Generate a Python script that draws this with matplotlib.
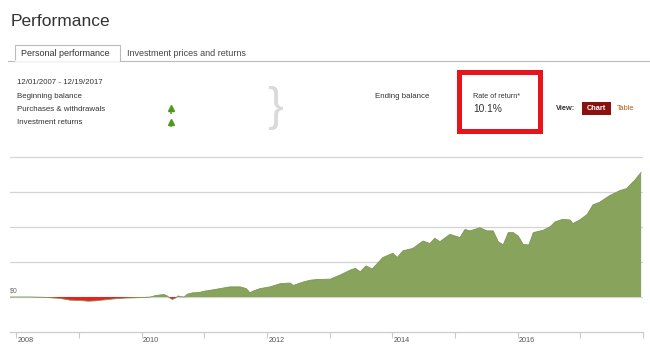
import matplotlib
matplotlib.use("Agg")
import matplotlib.pyplot as plt
from matplotlib.patches import Rectangle
from matplotlib.lines import Line2D
import numpy as np

plt.rcParams['font.family'] = ['Liberation Sans', 'DejaVu Sans']

# account value over time (decimal years, value in units of one gridline step)
years = [2007.90, 2008.22, 2008.46, 2008.70, 2008.86, 2009.02, 2009.15, 2009.26,
         2009.42, 2009.58, 2009.74, 2009.90, 2010.06, 2010.14, 2010.22, 2010.30,
         2010.36, 2010.41, 2010.46, 2010.49, 2010.54, 2010.58, 2010.63, 2010.68,
         2010.73, 2010.82, 2010.93, 2010.98, 2011.09, 2011.25, 2011.41, 2011.57,
         2011.67, 2011.73, 2011.78, 2011.89, 2012.05, 2012.21, 2012.37, 2012.42,
         2012.58, 2012.69, 2012.80, 2013.01, 2013.17, 2013.33, 2013.41, 2013.49,
         2013.58, 2013.68, 2013.85, 2014.01, 2014.08, 2014.17, 2014.33, 2014.49,
         2014.60, 2014.68, 2014.76, 2014.92, 2015.08, 2015.16, 2015.24, 2015.40,
         2015.51, 2015.61, 2015.69, 2015.77, 2015.85, 2015.93, 2016.01, 2016.09,
         2016.18, 2016.25, 2016.41, 2016.52, 2016.60, 2016.72, 2016.84, 2016.88,
         2016.99, 2017.11, 2017.20, 2017.31, 2017.47, 2017.63, 2017.74, 2017.87,
         2017.97]
values = [0.00, 0.00, -0.01, -0.04, -0.09, -0.10, -0.12, -0.11,
          -0.08, -0.05, -0.03, -0.02, -0.01, 0.00, 0.04, 0.06,
          0.07, 0.03, -0.04, -0.07, -0.03, 0.03, 0.01, 0.00,
          0.08, 0.12, 0.13, 0.16, 0.19, 0.24, 0.29, 0.29,
          0.24, 0.12, 0.17, 0.24, 0.29, 0.38, 0.40, 0.33,
          0.43, 0.48, 0.50, 0.51, 0.63, 0.77, 0.82, 0.72,
          0.89, 0.80, 1.13, 1.25, 1.13, 1.32, 1.39, 1.60,
          1.53, 1.68, 1.58, 1.79, 1.70, 1.93, 1.89, 1.98,
          1.89, 1.89, 1.58, 1.49, 1.84, 1.84, 1.74, 1.50,
          1.49, 1.84, 1.91, 2.01, 2.15, 2.22, 2.20, 2.10,
          2.20, 2.36, 2.63, 2.71, 2.90, 3.04, 3.10, 3.34,
          3.56]
tick_years = list(range(2008, 2019))
label_years = [2008, 2010, 2012, 2014, 2016]

W, H = 650, 354
def px(x, y):
    return x / W, 1 - y / H

fig = plt.figure(figsize=(6.5, 3.54), dpi=100)

# ---- header ----
fig.text(*px(11, 26), "Performance", fontsize=12.5, color='#333333', va='baseline')

fig.add_artist(Line2D([8 / W, 1], [1 - 61 / H] * 2, color='#bbbbbb', lw=0.8))
fig.add_artist(Rectangle(px(15, 61), 105 / W, 16 / H, transform=fig.transFigure,
                         facecolor='white', edgecolor='#bbbbbb', lw=0.8))
fig.add_artist(Line2D([15.6 / W, 119.4 / W], [1 - 61 / H] * 2, color='white', lw=1.2))
fig.text(*px(21, 54), "Personal performance", fontsize=6.5, color='#333333', va='center')
fig.text(*px(127, 54), "Investment prices and returns", fontsize=6.5, color='#444444', va='center')

info = ["12/01/2007 - 12/19/2017", "Beginning balance", "Purchases & withdrawals", "Investment returns"]
info_y = [82.5, 96.5, 109.5, 123]
for t, y in zip(info, info_y):
    fig.text(*px(17, y), t, fontsize=5.7, color='#333333', va='center')

# small green up arrows
for y in [109.5, 123]:
    fig.add_artist(Line2D([171 / W] * 2, [1 - (y + 3) / H, 1 - (y - 1) / H],
                          color='#4f9a1e', lw=1.2))
    fig.add_artist(Line2D([171 / W], [1 - (y - 1.2) / H], marker='^', markersize=4,
                          color='#4f9a1e', lw=0))

fig.text(*px(275, 108), "}", fontsize=34, color='#dadada', va='center', ha='center')
fig.text(*px(375, 96), "Ending balance", fontsize=5.7, color='#333333', va='center')

fig.add_artist(Rectangle(px(459.5, 130.5), 80 / W, 58 / H, transform=fig.transFigure,
                         facecolor='white', edgecolor='#e8141b', lw=3.6))
fig.text(*px(473, 96), "Rate of return*", fontsize=5.2, color='#333333', va='center')
fig.text(*px(473, 109), "10.1%", fontsize=7.4, color='#333333', va='center')

fig.text(*px(556, 109), "View:", fontsize=5.3, color='#333333', fontweight='bold', va='center')
fig.add_artist(Rectangle(px(582, 115), 29 / W, 13 / H, transform=fig.transFigure,
                         facecolor='#8b1010', edgecolor='none'))
fig.text(*px(596.5, 108.5), "Chart", fontsize=5.3, color='white', fontweight='bold',
         va='center', ha='center')
fig.text(*px(617, 109), "Table", fontsize=5.3, color='#a8601f', va='center')

# ---- chart ----
ax = fig.add_axes([10 / W, 22 / H, 633 / W, 176 / H])
x = np.array(years)
y = np.array(values)
ax.fill_between(x, 0, y, where=y >= 0, interpolate=True, color='#87a35c', lw=0, zorder=3)
ax.fill_between(x, 0, y, where=y <= 0, interpolate=True, color='#e8201e', lw=0, zorder=3)
ax.plot(x, y, color='#7d9656', lw=0.6, zorder=4)

ax.set_xlim(years[0], years[-1])
ax.set_ylim(-1, 4.03)
ax.set_yticks([0, 1, 2, 3, 4])
ax.set_yticklabels([])
ax.tick_params(axis='y', length=0)
ax.grid(axis='y', color='#d4d4d4', lw=0.9)
ax.set_axisbelow(True)
for s in ['top', 'left', 'right']:
    ax.spines[s].set_visible(False)
ax.spines['bottom'].set_color('#cccccc')
ax.spines['bottom'].set_linewidth(0.9)

ax.set_xticks(tick_years)
ax.set_xticklabels([])
ax.tick_params(axis='x', length=4.3, color='#cccccc', width=0.8)
for yr in label_years:
    ax.annotate(str(yr), (yr, 0), xycoords=('data', 'axes fraction'),
                xytext=(1, -5.8), textcoords='offset points',
                fontsize=5.2, color='#555555', va='center', ha='left')

ax.annotate("$0", (0, 0), xycoords=('axes fraction', 'data'),
            xytext=(0, 4.5), textcoords='offset points',
            fontsize=5, color='#666666', va='center', ha='left')

fig.savefig("out.png", dpi=100)
